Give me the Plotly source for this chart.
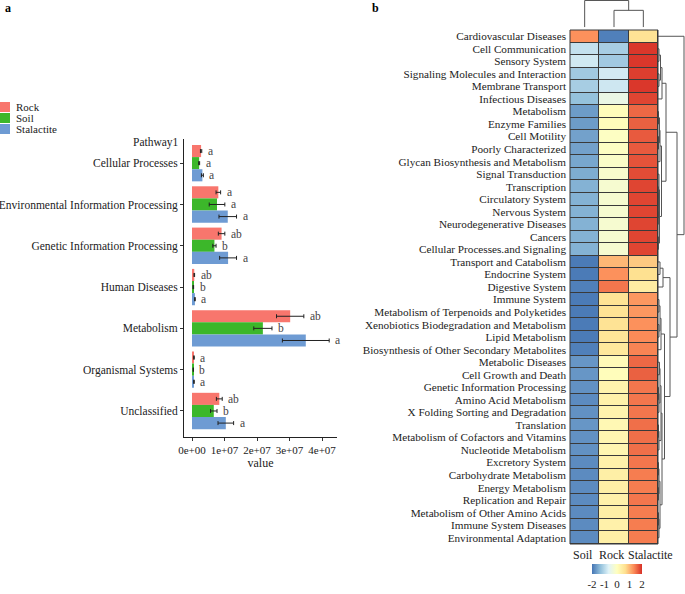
import plotly.graph_objects as go

W, H = 685, 594
FONT = "Liberation Serif"

# ---------------- panel a data ----------------
pathways = ["Cellular Processes", "Environmental Information Processing",
            "Genetic Information Processing", "Human Diseases", "Metabolism",
            "Organismal Systems", "Unclassified"]
groups = ["Rock", "Soil", "Stalactite"]
rock_vals = [2.8e6, 8.1e6, 9.1e6, 0.7e6, 30.2e6, 0.6e6, 8.4e6]
rock_err = [0.2e6, 0.7e6, 1.0e6, 0.1e6, 4.2e6, 0.1e6, 0.9e6]
soil_vals = [2.2e6, 7.7e6, 6.9e6, 0.4e6, 21.8e6, 0.4e6, 6.7e6]
soil_err = [0.15e6, 2.4e6, 0.5e6, 0.1e6, 2.8e6, 0.05e6, 1.0e6]
stal_vals = [3.2e6, 11.0e6, 11.1e6, 0.9e6, 35.0e6, 0.6e6, 10.4e6]
stal_err = [0.3e6, 2.7e6, 2.6e6, 0.1e6, 7.2e6, 0.1e6, 2.4e6]
rock_sig = ["a", "a", "ab", "ab", "ab", "a", "ab"]
soil_sig = ["a", "a", "b", "b", "b", "b", "b"]
stal_sig = ["a", "a", "a", "a", "a", "a", "a"]
x_ticks = [0, 1e7, 2e7, 3e7, 4e7]
x_tick_text = ["0e+00", "1e+07", "2e+07", "3e+07", "4e+07"]

# ---------------- panel b data ----------------
kegg_pathways = [
    "Cardiovascular Diseases", "Cell Communication", "Sensory System",
    "Signaling Molecules and Interaction", "Membrane Transport", "Infectious Diseases",
    "Metabolism", "Enzyme Families", "Cell Motility", "Poorly Characterized",
    "Glycan Biosynthesis and Metabolism", "Signal Transduction", "Transcription",
    "Circulatory System", "Nervous System", "Neurodegenerative Diseases", "Cancers",
    "Cellular Processes.and Signaling", "Transport and Catabolism", "Endocrine System",
    "Digestive System", "Immune System", "Metabolism of Terpenoids and Polyketides",
    "Xenobiotics Biodegradation and Metabolism", "Lipid Metabolism",
    "Biosynthesis of Other Secondary Metabolites", "Metabolic Diseases",
    "Cell Growth and Death", "Genetic Information Processing", "Amino Acid Metabolism",
    "X Folding Sorting and Degradation", "Translation",
    "Metabolism of Cofactors and Vitamins", "Nucleotide Metabolism", "Excretory System",
    "Carbohydrate Metabolism", "Energy Metabolism", "Replication and Repair",
    "Metabolism of Other Amino Acids", "Immune System Diseases", "Environmental Adaptation"]
samples = ["Soil", "Rock", "Stalactite"]
z_soil = [1.3, -0.9, -0.8, -1.2, -1.15, -1.3, -1.65, -1.65, -1.6, -1.6, -1.55, -1.5,
          -1.45, -1.45, -1.45, -1.45, -1.45, -1.45, -1.95, -1.95, -1.9, -1.95, -1.95,
          -1.95, -1.95, -1.9, -1.7, -1.7, -1.75, -1.8, -1.75, -1.7, -1.75, -1.75, -1.8,
          -1.8, -1.8, -1.8, -1.8, -1.8, -1.8]
z_rock = [-1.9, -1.15, -1.2, -0.78, -0.82, -0.45, 0.05, 0.05, -0.05, -0.05, -0.1, -0.15,
          -0.2, -0.2, -0.2, -0.2, -0.2, -0.2, 1.0, 1.3, 1.5, 0.6, 0.6, 0.6, 0.55, 0.5,
          0.1, 0.05, 0.25, 0.3, 0.25, 0.15, 0.2, 0.2, 0.3, 0.35, 0.35, 0.3, 0.35, 0.3, 0.35]
z_stal = [0.6, 1.95, 1.95, 1.9, 1.95, 1.85, 1.6, 1.65, 1.7, 1.7, 1.75, 1.8, 1.85, 1.85,
          1.85, 1.85, 1.85, 1.85, 0.85, 0.65, 0.4, 1.25, 1.25, 1.3, 1.35, 1.4, 1.6, 1.65,
          1.5, 1.5, 1.5, 1.55, 1.55, 1.55, 1.5, 1.45, 1.45, 1.5, 1.45, 1.45, 1.45]
heat_colors = ["#4575B4", "#91BFDB", "#E0F3F8", "#FFFFBF", "#FEE090", "#FC8D59", "#D73027"]
cbar_ticks = [-2, -1, 0, 1, 2]
cbar_text = ["-2", "-1", "0", "1", "2"]

# clustering trees: (left, right, merge height); leaves are indices
row_tree = (0, (
    (((((1, 2, 1.0), (3, 4, 1.0), 2.5), 5, 4.0),
      ((((6, 7, 0.5), (8, 9, 0.5), 1.5), 10, 2.0),
       ((11, ((12, 13, 0.3), (14, 15, 0.3), 0.6), 1.0), (16, 17, 0.4), 1.5), 3.5), 8.0)),
    (((18, 19, 2.0), 20, 5.0),
     ((((21, 22, 1.0), (23, 24, 1.0), 2.0), 25, 3.0),
      ((((26, 27, 1.5), ((28, 29, 0.5), 30, 1.0), 2.0), ((31, 32, 0.5), 33, 1.0), 3.0),
       (((34, 35, 0.5), (36, 37, 0.5), 1.0), ((38, 39, 0.5), 40, 1.0), 2.0), 4.0), 6.5),
     12.0), 19.0), 26.0)
col_tree = (0, (1, 2, 17.0), 27.0)

bar_colors = {"Rock": "#F8766D", "Soil": "#3CB72A", "Stalactite": "#6E9BD3"}


def px_x(p):
    return p / W


def px_y(p):
    return 1 - p / H


def walk(node, segs):
    if isinstance(node, int):
        return float(node), 0.0
    a, b, h = node
    pa, ha = walk(a, segs)
    pb, hb = walk(b, segs)
    segs.append(((pa, ha), (pa, h), (pb, h), (pb, hb)))
    return (pa + pb) / 2, h


fig = go.Figure()

# ---------- panel a: grouped horizontal bars ----------
vals = {"Rock": rock_vals, "Soil": soil_vals, "Stalactite": stal_vals}
errs = {"Rock": rock_err, "Soil": soil_err, "Stalactite": stal_err}
sigs = {"Rock": rock_sig, "Soil": soil_sig, "Stalactite": stal_sig}
for g in groups:
    fig.add_trace(go.Bar(
        name=g, orientation="h", y=pathways, x=vals[g], showlegend=False,
        marker=dict(color=bar_colors[g], line=dict(width=0)),
        error_x=dict(type="data", array=errs[g], color="#222222", thickness=1, width=2),
        xaxis="x", yaxis="y"))

annotations = []
shapes = []
shifts = {"Rock": 12, "Soil": 0, "Stalactite": -12}
for g in groups:
    for i, p in enumerate(pathways):
        annotations.append(dict(
            x=vals[g][i] + errs[g][i], y=i, xref="x", yref="y", text=sigs[g][i],
            showarrow=False, xanchor="left", yanchor="middle", xshift=4,
            yshift=shifts[g], font=dict(family=FONT, size=11.5, color="#444444")))

# legend (drawn as key swatches + labels)
for k, g in enumerate(groups):
    yc = 107 + 11 * k
    shapes.append(dict(type="rect", xref="paper", yref="paper",
                       x0=px_x(0), x1=px_x(10), y0=px_y(yc + 5), y1=px_y(yc - 5),
                       fillcolor=bar_colors[g], line=dict(width=0)))
    annotations.append(dict(x=px_x(14), y=px_y(yc), xref="paper", yref="paper", text=g,
                            showarrow=False, xanchor="left", yanchor="middle",
                            font=dict(family=FONT, size=11, color="#222222")))

annotations.append(dict(x=px_x(181), y=px_y(142), xref="paper", yref="paper",
                        text="Pathway1", showarrow=False, xanchor="right",
                        yanchor="middle", font=dict(family=FONT, size=11.5, color="#222222")))
annotations.append(dict(x=px_x(3), y=px_y(8), xref="paper", yref="paper", text="<b>a</b>",
                        showarrow=False, xanchor="left", yanchor="middle",
                        font=dict(family=FONT, size=12, color="black")))
annotations.append(dict(x=px_x(370), y=px_y(8), xref="paper", yref="paper", text="<b>b</b>",
                        showarrow=False, xanchor="left", yanchor="middle",
                        font=dict(family=FONT, size=12, color="black")))

# ---------- panel b: heatmap ----------
nrow = len(kegg_pathways)
z = [[z_soil[i], z_rock[i], z_stal[i]] for i in range(nrow)]
cs = [[k / (len(heat_colors) - 1), c] for k, c in enumerate(heat_colors)]
fig.add_trace(go.Heatmap(
    z=z, x=list(range(3)), y=list(range(nrow)), colorscale=cs, zmin=-2, zmax=2,
    xgap=1, ygap=1, xaxis="x2", yaxis="y2", hoverinfo="skip",
    colorbar=dict(orientation="h", x=px_x(617), xanchor="center", y=px_y(575),
                  yanchor="middle", len=50, lenmode="pixels", thickness=10,
                  tickvals=cbar_ticks, ticktext=cbar_text, ticks="", outlinewidth=0,
                  ypad=0, xpad=0, tickangle=0,
                  tickfont=dict(family=FONT, size=11, color="#222222"))))

# column labels under the heatmap
col_shift = [-2, -3, 7]
for i, s in enumerate(samples):
    annotations.append(dict(x=i, y=0, xref="x2", yref="y2 domain", text=s,
                            showarrow=False, xanchor="center", yanchor="top",
                            xshift=col_shift[i], yshift=-2,
                            font=dict(family=FONT, size=12, color="#222222")))

# row dendrogram
segs = []
walk(row_tree, segs)
rx, ry = [], []
for s in segs:
    for (pos, h) in s:
        rx.append(h)
        ry.append(pos)
    rx.append(None)
    ry.append(None)
fig.add_trace(go.Scatter(x=rx, y=ry, mode="lines", line=dict(color="#555555", width=1),
                         xaxis="x3", yaxis="y3", showlegend=False, hoverinfo="skip",
                         cliponaxis=False))

# column dendrogram
segs = []
walk(col_tree, segs)
cx, cy = [], []
for s in segs:
    for (pos, h) in s:
        cx.append(pos)
        cy.append(h)
    cx.append(None)
    cy.append(None)
fig.add_trace(go.Scatter(x=cx, y=cy, mode="lines", line=dict(color="#555555", width=1),
                         xaxis="x4", yaxis="y4", showlegend=False, hoverinfo="skip",
                         cliponaxis=False))

hm_x = [px_x(570), px_x(658)]
hm_y = [px_y(544), px_y(30)]

shapes += [
    dict(type="rect", xref="x2 domain", yref="y2 domain", x0=0, x1=1, y0=0, y1=1,
         fillcolor="#3a3a3a", line=dict(width=0), layer="below"),
    dict(type="rect", xref="x2 domain", yref="y2 domain", x0=0, x1=1, y0=0, y1=1,
         fillcolor="rgba(0,0,0,0)", line=dict(width=1, color="#3a3a3a"), layer="above"),
]

tick_font = dict(family=FONT, size=11.5, color="#222222")
fig.update_layout(
    width=W, height=H, margin=dict(l=0, r=0, t=0, b=0, autoexpand=False),
    paper_bgcolor="white", plot_bgcolor="rgba(0,0,0,0)",
    barmode="group", bargap=0.12, bargroupgap=0,
    font=dict(family=FONT, size=12, color="#222222"),
    showlegend=False,
    xaxis=dict(domain=[px_x(184), px_x(337)], range=[-2.46e6, 4.46e7],
               showline=True, linecolor="#222222", linewidth=1, mirror=False,
               showgrid=False, zeroline=False, ticks="outside", ticklen=3,
               tickcolor="#333333", tickvals=x_ticks, ticktext=x_tick_text,
               tickangle=0, automargin=False,
               tickfont=dict(family=FONT, size=11, color="#222222"), anchor="y",
               title=dict(text="value", font=dict(family=FONT, size=12), standoff=0)),
    yaxis=dict(domain=[px_y(437), px_y(139)], range=[6.63, -0.585], automargin=False,
               showline=True, linecolor="#222222", linewidth=1, showgrid=False,
               zeroline=False, ticks="outside", ticklen=3, tickcolor="#333333",
               tickfont=tick_font, anchor="x"),
    xaxis2=dict(domain=hm_x, range=[-0.5, 2.5], anchor="y2", showgrid=False,
                zeroline=False, showline=False, showticklabels=False,
                ticks="", automargin=False),
    yaxis2=dict(domain=hm_y, range=[nrow - 0.5, -0.5], anchor="x2", showgrid=False,
                zeroline=False, showline=False, tickvals=list(range(nrow)),
                ticktext=kegg_pathways, ticks="", ticklabelstandoff=3, automargin=False,
                tickfont=dict(family=FONT, size=11.2, color="#222222")),
    xaxis3=dict(domain=[px_x(658), 1.0], range=[0, 27], anchor="y3", visible=False),
    yaxis3=dict(domain=hm_y, range=[nrow - 0.5, -0.5], anchor="x3", visible=False),
    xaxis4=dict(domain=hm_x, range=[-0.5, 2.5], anchor="y4", visible=False),
    yaxis4=dict(domain=[px_y(30), 1.0], range=[-3, 27.5], anchor="x4", visible=False),
    annotations=annotations, shapes=shapes,
)

fig.write_html("out.html", config={"displayModeBar": False},
               post_script="document.body.style.margin='0';document.body.style.padding='0';")
